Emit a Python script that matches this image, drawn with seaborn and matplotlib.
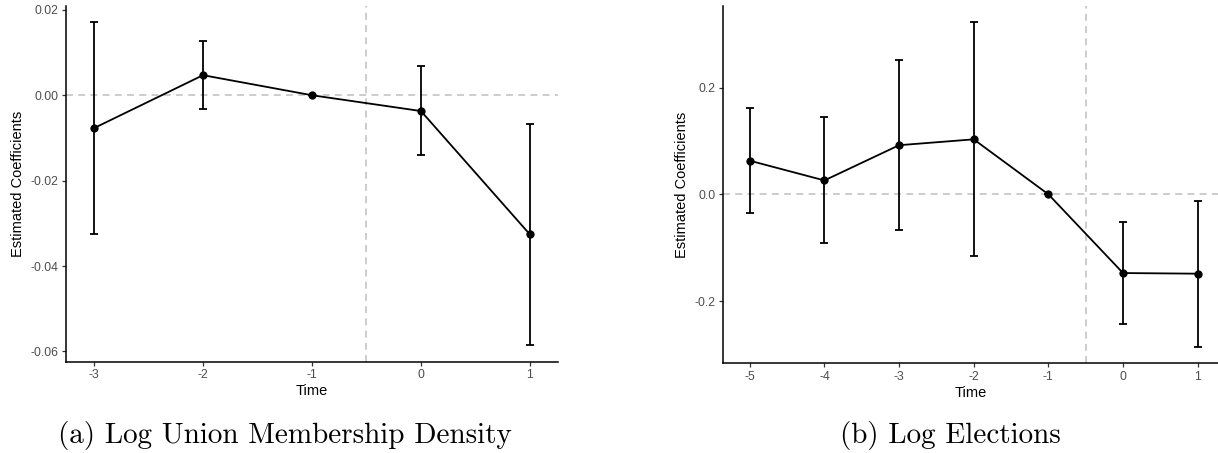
import numpy as np
import pandas as pd
import matplotlib
matplotlib.use("Agg")
import matplotlib.pyplot as plt
import seaborn as sns

# Panel (a): Log Union Membership Density
time_a = [-3, -2, -1, 0, 1]
coef_a = [-0.0077, 0.0047, 0.0, -0.0037, -0.0326]
upper_a = [0.0171, 0.0127, 0.0, 0.0068, -0.0068]
lower_a = [-0.0326, -0.0032, 0.0, -0.0141, -0.0586]

# Panel (b): Log Elections
time_b = [-5, -4, -3, -2, -1, 0, 1]
coef_b = [0.063, 0.026, 0.092, 0.103, 0.0, -0.1475, -0.1487]
upper_b = [0.161, 0.144, 0.252, 0.322, 0.0, -0.052, -0.012]
lower_b = [-0.035, -0.092, -0.0675, -0.116, 0.0, -0.243, -0.286]

yticks_a = [-0.06, -0.04, -0.02, 0.00, 0.02]
yticklabels_a = ["-0.06", "-0.04", "-0.02", "0.00", "0.02"]
yticks_b = [-0.2, 0.0, 0.2]
yticklabels_b = ["-0.2", "0.0", "0.2"]

captions = ["(a) Log Union Membership Density", "(b) Log Elections"]

sns.set_theme(style="white")
plt.rcParams['font.family'] = ['Liberation Sans', 'DejaVu Sans']

fig = plt.figure(figsize=(12.18, 4.53), dpi=100)
ax_a = fig.add_axes([65.7/1218, 1-361.7/453, (557.7-65.7)/1218, (361.7-6)/453])
ax_b = fig.add_axes([723.3/1218, 1-363.3/453, (1218-723.3)/1218, (363.3-6)/453])


def draw(ax, t, c, lo, up, yticks, ylabels, xlim, ylim):
    df = pd.DataFrame({"Time": t, "coef": c, "lo": lo, "up": up})
    ax.axhline(0, color="#BEBEBE", lw=1.1, ls=(0, (4.5, 3.5)), zorder=1)
    ax.axvline(-0.5, color="#BEBEBE", lw=1.1, ls=(0, (4.5, 3.5)), zorder=1)
    err = np.vstack([df["coef"] - df["lo"], df["up"] - df["coef"]])
    ax.errorbar(df["Time"], df["coef"], yerr=err, fmt="none", ecolor="black",
                elinewidth=1.3, capsize=3.2, capthick=1.3, zorder=2)
    sns.lineplot(data=df, x="Time", y="coef", ax=ax, color="black", lw=1.3,
                 marker="o", markersize=5.2, markeredgecolor="black",
                 markerfacecolor="black", zorder=3)
    ax.set_xlim(*xlim)
    ax.set_ylim(*ylim)
    ax.set_xticks(t)
    ax.set_xticklabels([str(v) for v in t])
    ax.set_yticks(yticks)
    ax.set_yticklabels(ylabels)
    ax.tick_params(axis="both", which="both", length=3, width=0.9, color="#333333",
                   labelsize=8.8, labelcolor="#4D4D4D", pad=2.5,
                   bottom=True, left=True)
    for s in ["top", "right"]:
        ax.spines[s].set_visible(False)
    for s in ["left", "bottom"]:
        ax.spines[s].set_color("black")
        ax.spines[s].set_linewidth(1.1)
    ax.set_xlabel("Time", fontsize=10.5, color="black", labelpad=2)
    ax.set_ylabel("Estimated Coefficients", fontsize=10.5, color="black", labelpad=4)
    ax.grid(False)


draw(ax_a, time_a, coef_a, lower_a, upper_a, yticks_a, yticklabels_a,
     (-3.26, 1.255), (-0.0624, 0.0209))
draw(ax_b, time_b, coef_b, lower_b, upper_b, yticks_b, yticklabels_b,
     (-5.354, 1.272), (-0.3166, 0.3528))

fig.text(285/1218, 1-436/453, captions[0], family="cmr10", fontsize=21,
         ha="center", va="center", color="black")
fig.text(950/1218, 1-436/453, captions[1], family="cmr10", fontsize=21,
         ha="center", va="center", color="black")

fig.savefig("out.png", dpi=100)
